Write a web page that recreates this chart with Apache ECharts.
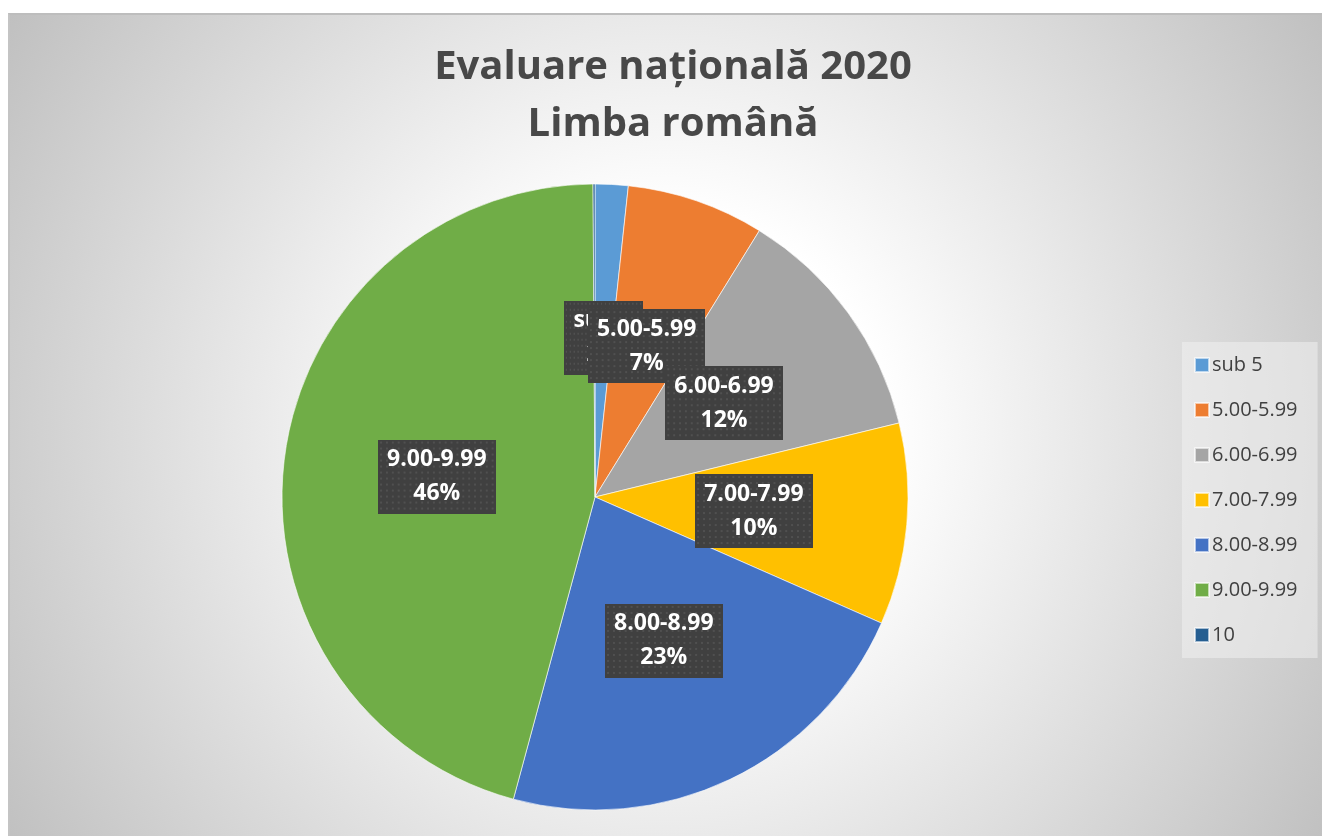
<!DOCTYPE html>
<html>
<head>
<meta charset="utf-8">
<script src="https://cdn.jsdelivr.net/npm/echarts@6/dist/echarts.min.js"></script>
<style>
    * {margin: 0; padding: 0;}
    body {background: #fff; width: 1322px; height: 836px; overflow: hidden;}
    #main {
        position: absolute; left: 8px; top: 13px; width: 1314px; height: 823px;
        border-top: 2px solid #bdbdbd; border-left: 2px solid #c4c4c4; box-sizing: border-box;
        background: radial-gradient(circle farthest-corner at 657px 417px, #ffffff 0%, #ffffff 28%, #c0c0c0 100%);
    }
</style>
</head>
<body>
<div id="main"></div>
<script type="text/javascript">
// categorii si procente
const categories = ['sub 5', '5.00-5.99', '6.00-6.99', '7.00-7.99', '8.00-8.99', '9.00-9.99', '10'];
const percents = [1.7, 7.1, 12.4, 10.4, 22.6, 45.7, 0.1];
const colors = ['#5B9BD5', '#ED7D31', '#A5A5A5', '#FFC000', '#4472C4', '#70AD47', '#255E91'];
const hiddenLabels = ['10'];

// fundal cu puncte pentru etichete
function dotPattern(w, h) {
    const c = document.createElement('canvas');
    c.width = w;
    c.height = h;
    const ctx = c.getContext('2d');
    ctx.fillStyle = '#404040';
    ctx.fillRect(0, 0, w, h);
    ctx.fillStyle = '#505050';
    for (let y = 2; y < h; y += 6) {
        for (let x = 2; x < w; x += 6) {
            ctx.fillRect(x, y, 2, 2);
        }
    }
    return c;
}

const chart = echarts.init(document.getElementById('main'));
const pattern = dotPattern(120, 74);

chart.setOption({
    color: colors,
    title: {
        text: 'Evaluare națională 2020\nLimba română',
        left: 663,
        top: 24,
        textAlign: 'center',
        padding: 0,
        textStyle: {
            fontFamily: 'Open Sans',
            fontWeight: 'bold',
            fontSize: 40,
            lineHeight: 57,
            color: '#484848'
        }
    },
    legend: {
        orient: 'vertical',
        left: 1172,
        top: 327,
        padding: [13, 20, 13, 12],
        backgroundColor: 'rgba(240,240,240,0.55)',
        itemWidth: 14,
        itemHeight: 14,
        itemGap: 25,
        icon: 'rect',
        data: categories,
        textStyle: {
            fontFamily: 'Open Sans',
            fontSize: 20,
            lineHeight: 20,
            color: '#404040',
            padding: [0, 0, 0, -2]
        }
    },
    series: [{
        type: 'pie',
        center: [585, 482],
        radius: 313,
        startAngle: 90,
        clockwise: true,
        silent: true,
        itemStyle: {
            borderColor: 'rgba(255,255,255,0.6)',
            borderWidth: 1
        },
        labelLayout: {hideOverlap: false},
        label: {
            show: true,
            position: 'inside',
            formatter: p => p.name + '\n' + Math.round(p.value) + '%',
            fontFamily: 'Open Sans',
            fontWeight: 'bold',
            fontSize: 23,
            lineHeight: 34,
            color: '#ffffff',
            backgroundColor: {image: pattern},
            padding: [3, 9],
            shadowColor: 'rgba(0,0,0,0.5)',
            shadowBlur: 6,
            shadowOffsetX: 4,
            shadowOffsetY: 4
        },
        labelLine: {show: false},
        data: categories.map((name, i) => ({
            name,
            value: percents[i],
            label: {show: hiddenLabels.indexOf(name) < 0}
        }))
    }]
});
</script>
</body>
</html>
